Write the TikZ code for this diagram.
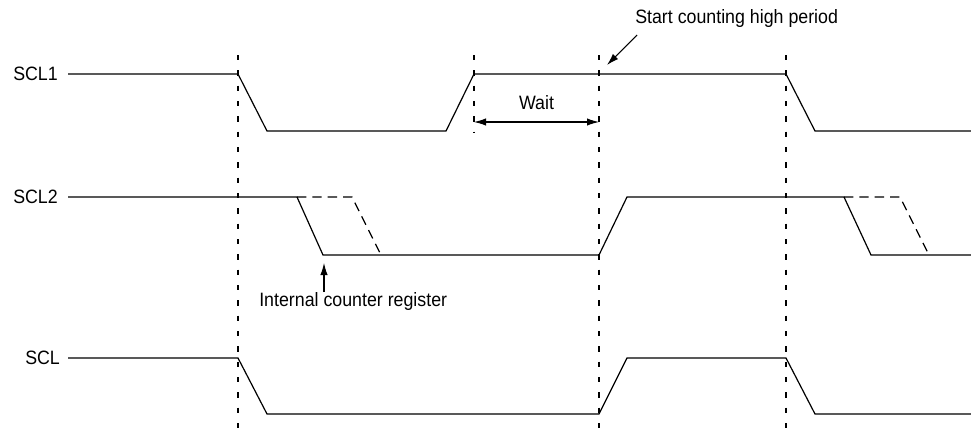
\documentclass[tikz,border=0pt]{standalone}
\usepackage{fontspec}
\setmainfont{Liberation Sans}[FakeStretch=0.92]
\usetikzlibrary{arrows.meta}
\begin{document}
\begin{tikzpicture}[x=0.75pt,y=-0.75pt]
		\tikzset{signal/.style = {line width=0.9pt}}
		\tikzset{late/.style = {signal, dash pattern=on 7pt off 4.5pt}}
		\tikzset{guide/.style = {line width=0.8pt, dash pattern=on 4pt off 7.5pt}}
		\tikzset{tag/.style = {font=\fontsize{14.5}{17}\selectfont, inner sep=0pt, anchor=west}}
		\tikzset{edge/.style = {->,> = {Latex[length=9pt,width=5.5pt]}, line width=0.8pt}}
		\useasboundingbox (0,0) rectangle (971,436);
		\node[tag] (scla) at (13,74) {SCL1};
		\node[tag] (sclb) at (13,197) {SCL2};
		\node[tag] (scl) at (25,358) {SCL};
		\draw[guide] (238,55) -- (238,436);
		\draw[guide] (474,55) -- (474,132);
		\draw[guide] (599,55) -- (599,436);
		\draw[guide] (786,55) -- (786,436);
		\draw[signal] (68,74) -- (238,74) -- (267,131) -- (446,131) -- (474,74) -- (786,74) -- (815,131) -- (971,131);
		\draw[signal] (68,197) -- (297,197) -- (323,255) -- (599,255) -- (627,197) -- (844,197) -- (871,255) -- (971,255);
		\draw[late] (297,197) -- (352,197) -- (381,255);
		\draw[late] (844,197) -- (900,197) -- (929,255);
		\draw[signal] (68,358) -- (238,358) -- (267,414) -- (599,414) -- (627,358) -- (786,358) -- (815,414) -- (971,414);
		\coordinate (wa) at (474,122);
		\coordinate (wb) at (599,122);
		\draw[edge,<->] (wa) -- node[tag,anchor=center,above=9pt] (wait) {Wait} (wb);
		\node[tag] (start) at (635,18) {Start counting high period};
		\coordinate (sa) at (637,35);
		\coordinate (sb) at (607,65);
		\draw[edge] (sa) -- (sb);
		\node[tag] (count) at (259,301) {Internal counter register};
		\coordinate (ca) at (324,292);
		\coordinate (cb) at (324,263);
		\draw[edge] (ca) -- (cb);
	\end{tikzpicture}
\end{document}
